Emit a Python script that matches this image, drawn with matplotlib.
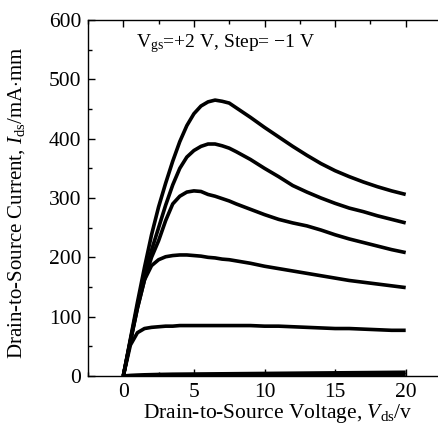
import matplotlib
matplotlib.use("Agg")
import matplotlib.pyplot as plt
from matplotlib.ticker import MultipleLocator

plt.rcParams['font.family'] = ['Liberation Serif', 'DejaVu Serif']
plt.rcParams['mathtext.fontset'] = 'custom'
plt.rcParams['mathtext.rm'] = 'Liberation Serif'
plt.rcParams['mathtext.it'] = 'Liberation Serif:italic'

# Drain-source voltage grid (V)
vds = [0, 0.5, 1, 1.5, 2, 2.5, 3, 3.5, 4, 4.5, 5, 5.5, 6, 6.5, 7, 7.5, 8,
       9, 10, 11, 12, 13, 14, 15, 16, 17, 18, 19, 20]

# Drain current (mA/mm) per gate voltage
ids_p2 = [0, 62, 124, 183, 238, 285, 325, 362, 395, 422, 442, 455, 462, 465, 463, 460, 452,
          436, 419, 403, 387, 372, 358, 346, 336, 327, 319, 312, 306]
ids_p1 = [0, 60, 118, 168, 212, 250, 288, 322, 350, 369, 380, 387, 391, 391, 388, 384, 378,
          365, 350, 336, 321, 310, 300, 291, 283, 277, 270, 264, 258]
ids_0 = [0, 58, 115, 162, 200, 228, 262, 290, 303, 310, 312, 311, 306, 303, 299, 295, 290,
         281, 272, 264, 258, 253, 246, 238, 231, 225, 219, 213, 208]
ids_m1 = [0, 58, 114, 162, 186, 196, 201, 203, 204, 204, 203, 202, 200, 199, 197, 196, 194,
          190, 185, 181, 177, 173, 169, 165, 161, 158, 155, 152, 149]
ids_m2 = [0, 52, 73, 80, 82, 83, 84, 84, 85, 85, 85, 85, 85, 85, 85, 85, 85,
          85, 84, 84, 83, 82, 81, 80, 80, 79, 78, 77, 77]
ids_m3 = [0, 1, 1.5, 2, 2.3, 2.6, 2.8, 3, 3.1, 3.2, 3.3, 3.4, 3.5, 3.6, 3.7, 3.8, 3.9,
          4.1, 4.3, 4.5, 4.7, 4.9, 5.1, 5.3, 5.5, 5.7, 5.9, 6.1, 6.3]
ids_m4 = [0, 0.3, 0.5, 0.6, 0.7, 0.8, 0.9, 1, 1, 1, 1.1, 1.1, 1.1, 1.2, 1.2, 1.2, 1.3,
          1.3, 1.4, 1.5, 1.5, 1.6, 1.7, 1.8, 1.8, 1.9, 2, 2.1, 2.2]

curves = [ids_p2, ids_p1, ids_0, ids_m1, ids_m2, ids_m3, ids_m4]

fig = plt.figure(figsize=(4.38, 4.28), dpi=100)
W, H = 438, 428
left, bottom, top = 88, 376, 20
xmin, xmax = -2.5, 22.5
ppu = 14.12
ax = fig.add_axes([left / W, (H - bottom) / H, (xmax - xmin) * ppu / W, (bottom - top) / H])

for c in curves:
    ax.plot(vds, c, color='black', lw=2.6, solid_capstyle='butt', solid_joinstyle='round')

FS = 15.5
ax.set_xlim(xmin, xmax)
ax.set_ylim(0, 600)
ax.xaxis.set_major_locator(MultipleLocator(5))
ax.xaxis.set_minor_locator(MultipleLocator(2.5))
ax.yaxis.set_major_locator(MultipleLocator(100))
ax.yaxis.set_minor_locator(MultipleLocator(50))
ax.spines['right'].set_visible(False)
for s in ['left', 'bottom', 'top']:
    ax.spines[s].set_linewidth(1.0)
ax.tick_params(which='both', direction='in', top=True, right=False, labelsize=FS, width=1.0)
ax.tick_params(which='major', length=5, pad=5)
ax.tick_params(which='minor', length=3)

ax.set_xlabel(r'Drain-to-Source Voltage, $V_{\mathrm{ds}}$/v', fontsize=FS)
ax.xaxis.set_label_coords(0.538, -0.072)
ax.set_ylabel(r'Drain-to-Source Current, $I_{\mathrm{ds}}$/mA$\cdot$mm', fontsize=15)
ax.yaxis.set_label_coords(-0.172, 0.486)

ax.text(0.87, 560, r'V$_{\mathrm{gs}}$=+2 V, Step= $-$1 V', fontsize=14, va='center', ha='left')

fig.savefig('out.png', dpi=100)
